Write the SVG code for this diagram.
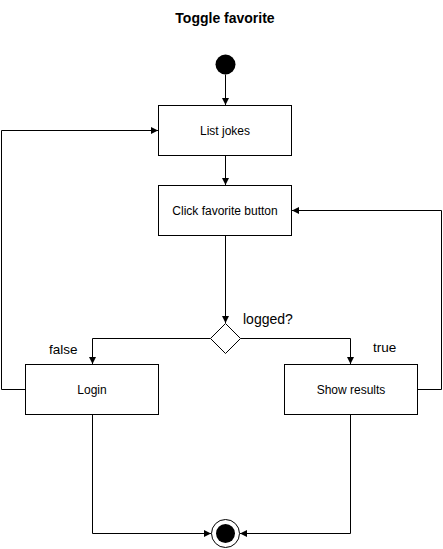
<svg xmlns="http://www.w3.org/2000/svg" width="443" height="549" viewBox="0 0 443 549">
  <style>
    .box { fill: #ffffff; stroke: #000000; stroke-width: 1; }
    .lbl { font-family: "Liberation Sans", Arial, sans-serif; font-size: 12px; fill: #000000; text-anchor: middle; }
    .guard { font-family: "Liberation Sans", Arial, sans-serif; fill: #000000; }
    .title { font-family: "Liberation Sans", Arial, sans-serif; font-size: 14px; font-weight: bold; fill: #000000; text-anchor: middle; }
    .edge { fill: none; stroke: #000000; stroke-width: 1; marker-end: url(#arrow); }
  </style>
  <defs>
    <marker id="arrow" markerUnits="userSpaceOnUse" markerWidth="8" markerHeight="8" refX="7" refY="3.5" orient="auto">
      <path d="M0,0 L7,3.5 L0,7 Z" fill="#000000"/>
    </marker>
  </defs>
  <rect width="443" height="549" fill="#ffffff"/>

  <text class="title" x="225" y="23">Toggle favorite</text>

  <g id="connectors">
    <path class="edge" d="M225.5 74.5 V105"/>
    <path class="edge" d="M225.5 155.5 V185"/>
    <path class="edge" d="M225.5 235.5 V323"/>
    <path class="edge" d="M210.5 338.5 H92.5 V364"/>
    <path class="edge" d="M240.5 338.5 H350.5 V364"/>
    <path class="edge" d="M25.5 389.5 H1.5 V130.5 H158"/>
    <path class="edge" d="M417.5 389.5 H441.5 V210.5 H292"/>
    <path class="edge" d="M92.5 414.5 V533.5 H211"/>
    <path class="edge" d="M350.5 414.5 V533.5 H240"/>
    <text class="guard" x="243" y="324" font-size="14">logged?</text>
    <text class="guard" x="49" y="354" font-size="13.5">false</text>
    <text class="guard" x="373" y="352" font-size="13.5">true</text>
  </g>

  <g id="start">
    <circle cx="225.5" cy="64.5" r="10" fill="#000000"/>
  </g>

  <g id="list-jokes">
    <rect class="box" x="158.5" y="105.5" width="133" height="50"/>
    <text class="lbl" x="225" y="134.5">List jokes</text>
  </g>

  <g id="click-favorite">
    <rect class="box" x="158.5" y="185.5" width="133" height="50"/>
    <text class="lbl" x="225" y="214.5">Click favorite button</text>
  </g>

  <g id="logged-decision">
    <polygon class="box" points="225.5,323.5 240.5,338.5 225.5,353.5 210.5,338.5"/>
  </g>

  <g id="login">
    <rect class="box" x="25.5" y="364.5" width="133" height="50"/>
    <text class="lbl" x="92" y="393.5">Login</text>
  </g>

  <g id="show-results">
    <rect class="box" x="284.5" y="364.5" width="133" height="50"/>
    <text class="lbl" x="351" y="393.5">Show results</text>
  </g>

  <g id="end">
    <circle cx="225.5" cy="533.5" r="14" fill="#ffffff" stroke="#000000" stroke-width="1"/>
    <circle cx="225.5" cy="533.5" r="9.5" fill="#000000"/>
  </g>
</svg>
